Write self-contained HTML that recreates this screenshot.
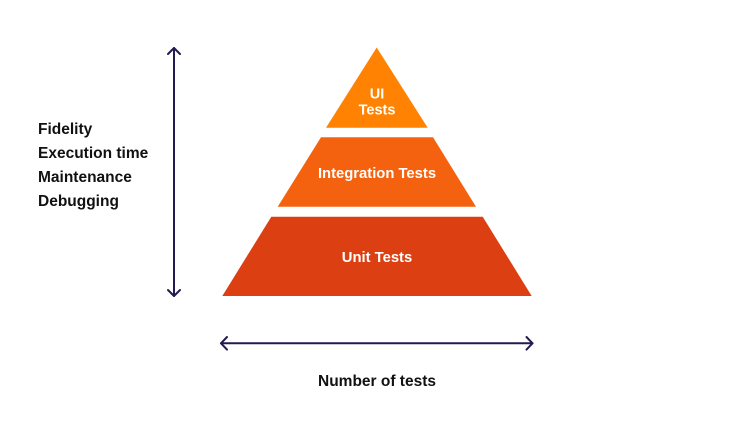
<!DOCTYPE html>
<html>
<head>
<meta charset="utf-8">
<style>
html,body{margin:0;padding:0;background:#fff;}
body{width:755px;height:440px;overflow:hidden;}
svg{display:block;}
text{font-family:"Liberation Sans",Arial,sans-serif;font-weight:bold;}
</style>
</head>
<body>
<svg width="755" height="440" viewBox="0 0 755 440" xmlns="http://www.w3.org/2000/svg">
  <rect width="755" height="440" fill="#ffffff"/>
  <!-- pyramid -->
  <polygon points="376.7,47.5 427.7,127.7 326,127.7" fill="#FF8203"/>
  <polygon points="321,137.3 433,137.3 476,206.7 277.7,206.7" fill="#F5620F"/>
  <polygon points="271.3,216.7 482.7,216.7 531.7,296 222.3,296" fill="#DC4012"/>
  <text x="377" y="98.3" font-size="14.5" fill="#fff" text-anchor="middle">UI</text>
  <text x="377" y="114.3" font-size="14.5" fill="#fff" text-anchor="middle">Tests</text>
  <text x="377" y="177.8" font-size="14.8" fill="#fff" text-anchor="middle">Integration Tests</text>
  <text x="377" y="261.8" font-size="14.8" fill="#fff" text-anchor="middle">Unit Tests</text>
  <!-- vertical arrow -->
  <g stroke="#211B4E" stroke-width="2" fill="none" stroke-linecap="round" stroke-linejoin="round">
    <line x1="174" y1="48" x2="174" y2="296"/>
    <polyline points="168,54 174,48 180,54"/>
    <polyline points="168,290 174,296 180,290"/>
    <line x1="221" y1="343.3" x2="532.5" y2="343.3"/>
    <polyline points="227,337 221,343.3 227,349.6"/>
    <polyline points="526.5,337 532.5,343.3 526.5,349.6"/>
  </g>
  <!-- left labels -->
  <g font-size="15.5" fill="#111">
    <text x="38" y="134">Fidelity</text>
    <text x="38" y="158">Execution time</text>
    <text x="38" y="182">Maintenance</text>
    <text x="38" y="206">Debugging</text>
  </g>
  <text x="377" y="386" font-size="15.5" fill="#111" text-anchor="middle">Number of tests</text>
</svg>
</body>
</html>
